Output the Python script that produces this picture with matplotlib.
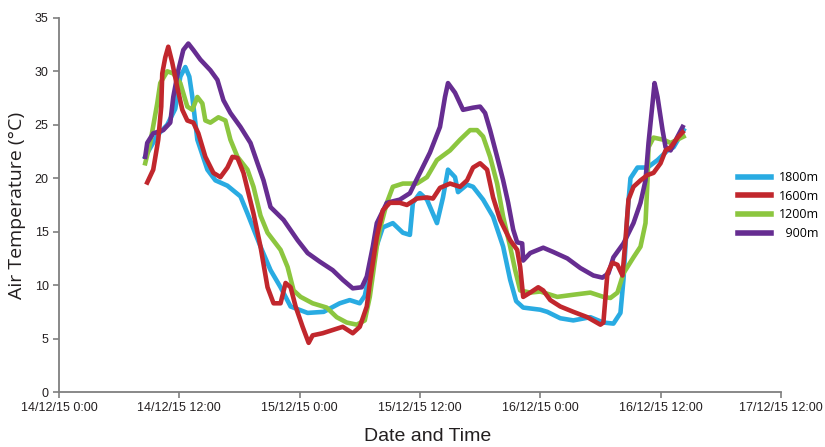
import matplotlib.pyplot as plt

# hours since 14/12/15 0:00
tick_hours = [0, 12, 24, 36, 48, 60, 72]
tick_labels = ['14/12/15 0:00', '14/12/15 12:00', '15/12/15 0:00', '15/12/15 12:00',
               '16/12/15 0:00', '16/12/15 12:00', '17/12/15 12:00']

h_1800 = [8.6, 9.8, 10.8, 11.6, 12.1, 12.6, 13.0, 13.3, 13.8, 14.8, 15.6, 16.8, 18.1, 18.8,
          20.1, 21.1, 22.1, 23.1, 24.8, 26.4, 28.0, 29.0, 30.0, 30.5, 31.3, 32.3, 33.3, 34.3,
          35.0, 35.3, 36.0, 36.7, 37.7, 38.3, 38.8, 39.5, 39.8, 40.7, 41.3, 42.3, 43.3, 44.3,
          45.0, 45.6, 46.3, 48.0, 48.7, 50.0, 51.3, 53.0, 54.3, 55.3, 56.0, 56.3, 56.7, 57.0,
          57.7, 58.7, 59.7, 60.7, 61.3, 62.3]
t_1800 = [22.0, 24.0, 25.0, 26.5, 29.5, 30.4, 29.5, 27.6, 23.6, 20.8, 19.8, 19.3, 18.3, 16.7,
          13.6, 11.4, 9.8, 8.0, 7.4, 7.5, 8.3, 8.6, 8.3, 9.0, 12.6, 15.4, 15.8, 14.9,
          14.7, 17.7, 18.6, 18.0, 15.8, 18.2, 20.8, 20.1, 18.7, 19.4, 19.2, 18.0, 16.4, 13.6,
          10.5, 8.5, 7.9, 7.7, 7.5, 6.9, 6.7, 7.0, 6.5, 6.4, 7.4, 10.5, 16.7, 20.0,
          21.0, 21.0, 21.7, 22.6, 22.9, 24.5]

h_1600 = [8.8, 9.4, 9.9, 10.2, 10.3, 10.6, 10.9, 11.3, 11.8, 12.3, 12.8, 13.4, 13.9, 14.6,
          15.4, 16.1, 16.8, 17.3, 17.8, 18.4, 18.9, 19.4, 20.1, 20.8, 21.4, 22.1, 22.6, 23.1,
          23.6, 24.3, 24.9, 25.3, 26.3, 27.3, 28.3, 29.3, 30.0, 30.7, 31.0, 31.7, 32.3, 33.0,
          34.0, 34.7, 35.7, 36.7, 37.3, 38.0, 39.0, 40.0, 40.7, 41.3, 42.0, 42.7, 43.3, 44.0,
          45.0, 45.7, 46.0, 46.3, 47.0, 47.8, 48.3, 49.0, 50.0, 51.3, 52.7, 54.0, 54.3, 54.7,
          55.2, 55.7, 56.2, 56.5, 56.8, 57.3, 58.0, 58.7, 59.3, 60.0, 60.5, 61.0, 61.7, 62.2]
t_1600 = [19.6, 20.8, 23.6, 26.7, 29.8, 31.3, 32.3, 30.8, 28.5, 26.4, 25.4, 25.2, 24.2, 22.0,
          20.5, 20.1, 21.0, 22.0, 21.9, 20.5, 18.6, 16.7, 13.6, 9.8, 8.3, 8.3, 10.2, 9.8,
          8.0, 6.1, 4.6, 5.3, 5.5, 5.8, 6.1, 5.5, 6.1, 8.0, 10.2, 14.5, 17.0, 17.7,
          17.7, 17.5, 18.1, 18.2, 18.1, 19.1, 19.5, 19.2, 19.8, 21.0, 21.4, 20.8, 18.2, 16.1,
          14.2, 13.3, 11.7, 8.9, 9.3, 9.8, 9.5, 8.6, 8.0, 7.5, 7.0, 6.3, 6.5, 11.1,
          12.1, 11.9, 10.9, 14.2, 18.0, 19.2, 19.8, 20.3, 20.5, 21.4, 22.6, 22.9, 23.8, 24.3]

h_1200 = [8.6, 9.1, 9.8, 10.1, 10.8, 11.4, 12.1, 12.8, 13.3, 13.8, 14.3, 14.6, 15.1, 15.9,
          16.6, 17.1, 17.8, 18.8, 19.4, 20.1, 20.8, 22.1, 22.8, 23.4, 24.1, 25.3, 26.7, 27.7,
          28.7, 29.7, 30.5, 31.0, 31.7, 32.0, 32.7, 33.3, 34.3, 35.7, 36.7, 37.7, 39.0, 40.0,
          41.0, 41.7, 42.3, 43.0, 43.7, 44.3, 45.0, 45.5, 46.0, 47.0, 48.0, 49.7, 51.3, 53.0,
          54.3, 55.0, 55.7, 56.3, 57.3, 58.0, 58.5, 58.7, 58.8, 59.3, 60.3, 61.0, 62.3]
t_1200 = [21.4, 23.3, 27.0, 28.9, 30.0, 29.8, 28.9, 26.7, 26.4, 27.6, 27.0, 25.4, 25.2, 25.7,
          25.4, 23.6, 22.0, 20.8, 19.2, 16.5, 14.9, 13.3, 11.7, 9.5, 8.9, 8.3, 7.9, 7.0,
          6.5, 6.3, 6.7, 8.9, 13.6, 15.2, 17.7, 19.2, 19.5, 19.5, 20.1, 21.7, 22.6, 23.6,
          24.5, 24.5, 23.9, 22.0, 19.5, 16.4, 13.6, 11.4, 9.5, 9.3, 9.4, 8.9, 9.1, 9.3,
          8.9, 8.8, 9.3, 11.1, 12.6, 13.6, 15.8, 19.8, 22.9, 23.8, 23.6, 23.3, 23.9]

h_900 = [8.6, 8.8, 9.4, 10.4, 11.1, 11.4, 11.9, 12.4, 12.9, 13.4, 14.1, 15.1, 15.8, 16.4,
         17.1, 18.1, 19.1, 19.8, 20.4, 21.1, 22.4, 23.8, 24.8, 26.0, 27.3, 28.3, 29.3, 30.2,
         30.7, 31.3, 31.7, 32.7, 34.0, 35.0, 36.0, 37.0, 38.0, 38.5, 38.8, 39.5, 40.3, 41.3,
         42.0, 42.5, 43.0, 43.7, 44.3, 44.8, 45.3, 45.7, 46.2, 46.3, 47.0, 48.3, 49.3, 50.7,
         52.0, 53.3, 54.2, 54.8, 55.3, 56.3, 57.3, 58.0, 58.5, 58.8, 59.2, 59.4, 59.7, 60.2,
         60.5, 61.0, 61.7, 62.2]
t_900 = [22.0, 23.3, 24.2, 24.5, 25.2, 27.6, 30.1, 32.0, 32.6, 32.0, 31.1, 30.1, 29.2, 27.3,
         26.1, 24.8, 23.3, 21.4, 19.8, 17.3, 16.1, 14.2, 13.0, 12.2, 11.4, 10.5, 9.7, 9.8,
         10.8, 13.6, 15.8, 17.7, 18.0, 18.6, 20.5, 22.4, 24.8, 27.6, 28.9, 28.0, 26.4, 26.6,
         26.7, 26.1, 24.5, 22.0, 19.8, 17.7, 15.2, 14.0, 13.9, 12.3, 13.0, 13.5, 13.1, 12.5,
         11.6, 10.9, 10.7, 11.1, 12.6, 13.9, 15.8, 17.7, 19.8, 23.3, 27.0, 28.9, 27.6, 24.5,
         22.9, 22.6, 23.9, 24.8]

narrow = ['Liberation Sans', 'DejaVu Sans']

fig = plt.figure(figsize=(8.25, 4.47), dpi=100)
ax = fig.add_axes([0.0715, 0.123, 0.875, 0.837])

lw = 3.3
l1, = ax.plot(h_1800, t_1800, color='#29abe2', lw=lw, solid_joinstyle='round', label='1800m')
l3, = ax.plot(h_1200, t_1200, color='#8cc63f', lw=lw, solid_joinstyle='round', label='1200m')
l4, = ax.plot(h_900, t_900, color='#662d91', lw=lw, solid_joinstyle='round', label='  900m')
l2, = ax.plot(h_1600, t_1600, color='#c1272d', lw=lw, solid_joinstyle='round', label='1600m')

ax.set_xlim(0, 72)
ax.set_ylim(0, 35)
ax.set_xticks(tick_hours)
ax.set_xticklabels(tick_labels)
ax.set_yticks(range(0, 36, 5))

for s in ['top', 'right']:
    ax.spines[s].set_visible(False)
for s in ['left', 'bottom']:
    ax.spines[s].set_color('#7f7f7f')
    ax.spines[s].set_linewidth(1.3)
ax.tick_params(colors='#7f7f7f', length=4, width=1.2, labelcolor='#231f20', labelsize=9)
for lab in ax.get_xticklabels() + ax.get_yticklabels():
    lab.set_family(narrow)

ax.set_ylabel('Air Temperature (°C)', fontsize=14, family=['Open Sans', 'DejaVu Sans'],
              color='#231f20', labelpad=6)
fig.text(0.518, 0.024, 'Date and Time', fontsize=14, family=narrow, color='#231f20',
         ha='center', va='center')

leg = ax.legend(handles=[l1, l2, l3, l4], loc='center left', bbox_to_anchor=(0.887, 0.54),
                bbox_transform=fig.transFigure, frameon=False, fontsize=9,
                handlelength=2.6, handletextpad=0.7, labelspacing=0.45, borderpad=0)
for line in leg.get_lines():
    line.set_linewidth(4)
for txt in leg.get_texts():
    txt.set_family(['Open Sans', 'DejaVu Sans'])

fig.savefig('out.png', dpi=100)
